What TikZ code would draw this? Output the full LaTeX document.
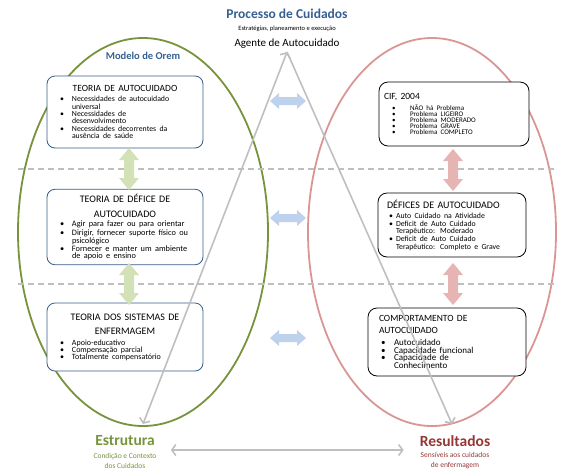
\documentclass[tikz,border=0pt]{standalone}
\usepackage{fontspec}
\setmainfont{Carlito}
\usetikzlibrary{arrows.meta}

\definecolor{oremgreen}{RGB}{119,147,60}
\definecolor{resred}{RGB}{217,150,148}
\definecolor{resdark}{RGB}{149,55,53}
\definecolor{titleblue}{RGB}{54,95,145}
\definecolor{arrblue}{RGB}{190,210,238}
\definecolor{arrgreen}{RGB}{210,225,182}
\definecolor{arrpink}{RGB}{230,180,179}
\definecolor{boxblue}{RGB}{56,93,138}
\definecolor{linegray}{RGB}{191,191,191}

% bullet line: offset of bullet, indent of text, text
\newcommand{\itm}[3]{\hangindent=#2\hangafter=1\noindent\hbox to #2{\hspace{#1}•\hfil}#3\par}

\tikzset{
  lbox/.style={draw=boxblue, line width=0.8pt, rounded corners=8pt, fill=white, inner sep=5pt},
  rbox/.style={draw=black, line width=0.8pt, rounded corners=9pt, fill=white, inner sep=5pt},
  divider/.style={linegray, line width=1.2pt, dash pattern=on 6pt off 4pt},
  hdbl/.pic={\path[pic actions] (-18,0)--(-9,-8)--(-9,-4)--(9,-4)--(9,-8)--(18,0)
      --(9,8)--(9,4)--(-9,4)--(-9,8)--cycle;},
  vdbl/.pic={\path[pic actions] (0,-21)--(10,-9)--(5,-9)--(5,9)--(10,9)--(0,21)
      --(-10,9)--(-5,9)--(-5,-9)--(-10,-9)--cycle;},
}

\begin{document}
\begin{tikzpicture}[x=1pt,y=-1pt,>={Straight Barb[length=4pt,width=11pt]}]
  \useasboundingbox (0,0) rectangle (572,472);

  % the two models
  \draw[oremgreen, line width=1.8pt] (143,232) ellipse [x radius=125pt, y radius=194pt];
  \draw[resred, line width=1.8pt] (432,232) ellipse [x radius=124pt, y radius=194pt];
  \draw[divider] (18,169)--(555,169);
  \draw[divider] (18,284)--(555,284);

  % headings
  \node[font=\fontsize{13.5}{15}\selectfont\bfseries, text=titleblue] (proc) at (287,14) {Processo de Cuidados};
  \node[font=\fontsize{6.5}{8}\selectfont] (estrat) at (287,29) {Estratégias, planeamento e execução};
  \node[font=\fontsize{11}{13}\selectfont] (agente) at (287,44) {Agente de Autocuidado};
  \node[font=\fontsize{10.5}{12}\selectfont\bfseries, text=titleblue] (orem) at (143,56) {Modelo de Orem};

  \node[font=\fontsize{15.5}{17}\selectfont\bfseries, text=oremgreen, inner sep=0pt] (estrutura) at (125,441) {Estrutura};
  \node[font=\fontsize{7.5}{10}\selectfont, text=oremgreen, align=center, inner sep=0pt] (estrsub) at (125,461) {Condição e Contexto\\dos Cuidados};
  \node[font=\fontsize{15.5}{17}\selectfont\bfseries, text=resdark, inner sep=0pt] (resultados) at (455,441) {Resultados};
  \node[font=\fontsize{7.5}{10}\selectfont, text=resdark, align=center, inner sep=0pt] (ressub) at (455,461) {Sensíveis aos cuidados\\de enfermagem};

  % Orem boxes
  \node[lbox, text width=146pt, minimum height=72pt] (teoria1) at (125,112)
    {\raggedright{\centering\fontsize{9.5}{11}\selectfont TEORIA DE AUTOCUIDADO\par}\vspace{3pt}
     \fontsize{7.8}{7.4}\selectfont
     \itm{8pt}{20pt}{Necessidades de autocuidado\newline universal}
     \itm{8pt}{20pt}{Necessidades de\newline desenvolvimento}
     \itm{8pt}{20pt}{Necessidades decorrentes da\newline ausência de saúde}};
  \node[lbox, text width=146pt, minimum height=74pt] (teoria2) at (125,227)
    {\raggedright{\centering\fontsize{10}{14.5}\selectfont TEORIA DE DÉFICE DE\\AUTOCUIDADO\par}\vspace{3pt}
     \fontsize{8.3}{6.9}\selectfont
     \itm{8pt}{20pt}{Agir para fazer ou para orientar}
     \itm{8pt}{20pt}{Dirigir, fornecer suporte físico ou\newline psicológico}
     \itm{8pt}{20pt}{Fornecer e manter um ambiente\newline de apoio e ensino}};
  \node[lbox, text width=146pt, minimum height=68pt] (teoria3) at (125,337)
    {\raggedright{\centering\fontsize{10}{14.5}\selectfont TEORIA DOS SISTEMAS DE\\ENFERMAGEM\par}\vspace{4pt}
     \fontsize{8}{6.9}\selectfont
     \itm{8pt}{20pt}{Apoio-educativo}
     \itm{8pt}{20pt}{Compensação parcial}
     \itm{8pt}{20pt}{Totalmente compensatório}};

  % outcome boxes
  \node[rbox, text width=140pt, minimum height=64pt] (cif) at (454,114)
    {\raggedright{\fontsize{9.5}{11}\selectfont CIF, 2004\par}\vspace{3pt}
     \fontsize{7}{6}\selectfont
     \itm{8pt}{26pt}{NÃO há Problema}
     \itm{8pt}{26pt}{Problema LIGEIRO}
     \itm{8pt}{26pt}{Problema MODERADO}
     \itm{8pt}{26pt}{Problema GRAVE}
     \itm{8pt}{26pt}{Problema COMPLETO}};
  \node[rbox, inner xsep=9pt, text width=130pt, minimum height=64pt] (defices) at (452,225)
    {\raggedright{\fontsize{10}{12}\selectfont DÉFICES DE AUTOCUIDADO\par}\vspace{3pt}
     \fontsize{7.8}{7.6}\selectfont
     \itm{2pt}{9pt}{Auto Cuidado na Atividade}
     \itm{2pt}{9pt}{Deficit de Auto Cuidado\newline Terapêutico: Moderado}
     \itm{2pt}{9pt}{Deficit de Auto Cuidado\newline Terapêutico: Completo e Grave}};
  \node[rbox, inner xsep=11pt, text width=136pt, minimum height=68pt] (comport) at (447,342)
    {\raggedright{\fontsize{9.5}{12}\selectfont COMPORTAMENTO DE\\AUTOCUIDADO\par}\vspace{4pt}
     \fontsize{9}{7.8}\selectfont
     \itm{2pt}{15pt}{Autocuidado}
     \itm{2pt}{15pt}{Capacidade funcional}
     \itm{2pt}{15pt}{Capacidade de\newline Conhecimento}};

  % block arrows
  \foreach \y/\nm in {101/b1,218/b2,338/b3}
    \pic[fill=arrblue] (\nm) at (288,\y) {hdbl};
  \foreach \y/\nm in {169/g1,284/g2}
    \pic[fill=arrgreen] (\nm) at (129,\y) {vdbl};
  \foreach \y/\nm in {170/p1,284/p2}
    \pic[fill=arrpink] (\nm) at (453,\y) {vdbl};

  % gray connectors
  \coordinate (topo) at (287,52);
  \coordinate (estr-end) at (143,424);
  \coordinate (res-end) at (452,424);
  \path (estrutura.east) ++(16,9) coordinate (h-a);
  \path (resultados.west) ++(-16,9) coordinate (h-b);
  \draw[<->, linegray, line width=1.6pt] (estr-end)--(topo);
  \draw[->, linegray, line width=1.6pt] (topo)--(res-end);
  \draw[<->, linegray, line width=1.6pt] (h-a)--(h-b);
\end{tikzpicture}
\end{document}
